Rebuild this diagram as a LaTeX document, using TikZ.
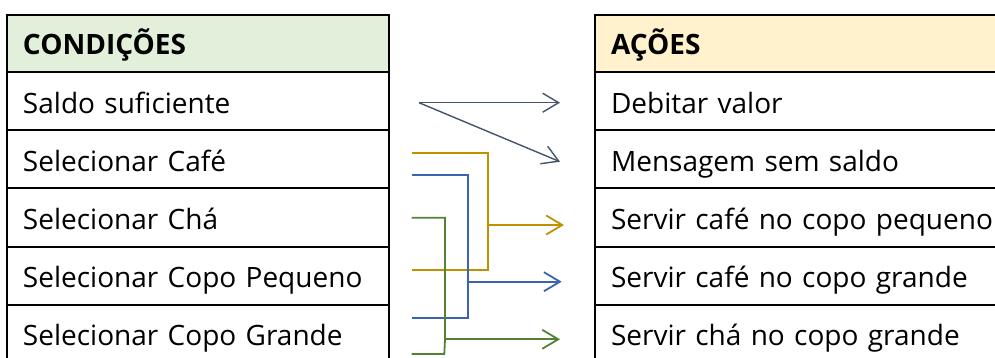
\documentclass[tikz,border=0pt]{standalone}
\usepackage{fontspec}
\setmainfont{Open Sans}
\usetikzlibrary{arrows.meta}
\definecolor{hdrgreen}{HTML}{E2EFDA}
\definecolor{hdryellow}{HTML}{FFF2CC}
\definecolor{cgray}{HTML}{44546A}
\definecolor{cgold}{HTML}{BF9000}
\definecolor{cblue}{HTML}{3C64AE}
\definecolor{cgreen}{HTML}{548235}
\tikzset{
  cell/.style={draw=black, line width=2pt, rectangle, anchor=north west,
    outer sep=0pt, minimum height=58.2pt, inner xsep=16pt, inner ysep=0pt,
    text height=24pt, text depth=0pt, align=left,
    font=\fontsize{28}{32}\selectfont},
  lcell/.style={cell, text width=350pt, minimum width=382pt},
  rcell/.style={cell, text width=400pt, minimum width=432pt},
  hdr/.style={minimum height=57pt, text height=23pt, font=\fontsize{28}{32}\selectfont\bfseries},
  link/.style={line width=1.8pt},
  thinlink/.style={line width=1.4pt},
  tipped/.style={-{Straight Barb[length=16pt,width=19pt]}},
}
\begin{document}
\begin{tikzpicture}[x=1pt,y=-1pt]
\useasboundingbox (0,0) rectangle (995,358);
\clip (0,0) rectangle (995,358);
% left table
\node[lcell, hdr, fill=hdrgreen] (lh) at (7,15) {CONDIÇÕES};
\node[lcell] (l1) at (lh.south west) {Saldo suficiente};
\node[lcell] (l2) at (l1.south west) {Selecionar Café};
\node[lcell] (l3) at (l2.south west) {Selecionar Chá};
\node[lcell] (l4) at (l3.south west) {Selecionar Copo Pequeno};
\node[lcell] (l5) at (l4.south west) {Selecionar Copo Grande};
% right table
\node[rcell, hdr, fill=hdryellow] (rh) at (595,15) {AÇÕES};
\node[rcell] (r1) at (rh.south west) {Debitar valor};
\node[rcell] (r2) at (r1.south west) {Mensagem sem saldo};
\node[rcell] (r3) at (r2.south west) {Servir café no copo pequeno};
\node[rcell] (r4) at (r3.south west) {Servir café no copo grande};
\node[rcell] (r5) at (r4.south west) {Servir chá no copo grande};
% coordinates
\coordinate (g0) at (419,102.7);
\coordinate (g1) at (560,102.7);
\coordinate (g2) at (560,161.7);
\coordinate (o0) at (411.7,153.3);
\coordinate (o1) at (488.3,153.3);
\coordinate (o2) at (488.3,270);
\coordinate (o3) at (411.7,270);
\coordinate (om) at (488.3,225);
\coordinate (oe) at (564,225);
\coordinate (b0) at (411.7,175);
\coordinate (b1) at (467.7,175);
\coordinate (b2) at (467.7,318.3);
\coordinate (b3) at (411.7,318.3);
\coordinate (bm) at (467.7,281.7);
\coordinate (be) at (561.7,281.7);
\coordinate (n0) at (411.7,217.7);
\coordinate (n1) at (445,217.7);
\coordinate (nm) at (445,339.3);
\coordinate (n2) at (444.3,354);
\coordinate (n3) at (411.7,354);
\coordinate (ne) at (560,339.3);
% connectors
\draw[thinlink, cgray, tipped] (g0) -- (g1);
\draw[thinlink, cgray, tipped] (g0) -- (g2);
\draw[link, cgold] (o0) -- (o1) -- (o2) -- (o3);
\draw[link, cgold, tipped] (om) -- (oe);
\draw[link, cblue] (b0) -- (b1) -- (b2) -- (b3);
\draw[link, cblue, tipped] (bm) -- (be);
\draw[link, cgreen] (n0) -- (n1) -- (nm) -- (n2) -- (n3);
\draw[link, cgreen, tipped] (nm) -- (ne);
\end{tikzpicture}
\end{document}
